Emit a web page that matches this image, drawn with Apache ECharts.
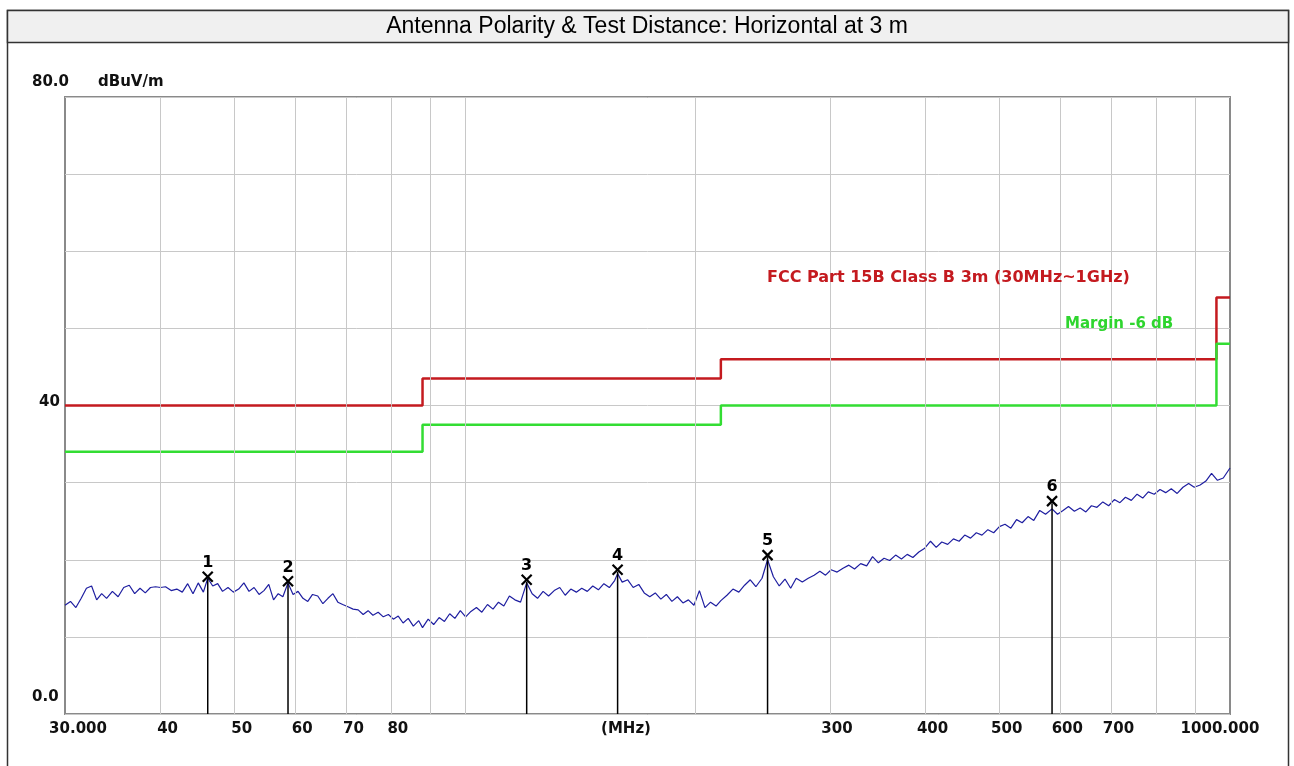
<!DOCTYPE html>
<html>
<head>
  <meta charset="utf-8" />
  <title>Radiated emission - Horizontal 3 m</title>
  <script src="https://cdn.jsdelivr.net/npm/echarts/dist/echarts.min.js"></script>
  <style>
    html, body { margin: 0; padding: 0; background: #fff; }
    #main { width: 1294px; height: 766px; }
  </style>
</head>
<body>
<div id="main"></div>
<script type="text/javascript">
    // measured trace (MHz, dBuV/m)
    var traceFreq = [
        30, 30.5, 31, 31.5, 32, 32.5, 33, 33.5, 34, 34.6, 35.2, 35.8, 36.4, 37, 37.6, 38.2, 38.8, 39.4,
        40, 40.6, 41.3, 42, 42.7, 43.4, 44.1, 44.8, 45.5, 46.1, 46.8, 47.5, 48.2, 49, 49.8,
        50.6, 51.4, 52.2, 53, 53.8, 54.6, 55.4, 56.2, 57, 57.8, 58.7, 59.6, 60.5, 61.4, 62.3, 63.2,
        64.2, 65.2, 66.2, 67.2, 68.2, 69.2, 70.3, 71.4, 72.5, 73.6, 74.7, 75.8, 77, 78.2, 79.4,
        80.6, 81.8, 83, 84.3, 85.6, 87, 88,
        89.5, 91, 92.5, 94, 95.5, 97, 98.6, 100.2, 101.8, 103.5, 105.2, 107, 108.8, 110.6, 112.4,
        114.3, 116.2, 118.2, 120.4, 122.4, 124.4, 126.5, 128.6, 130.8, 133, 135.2, 137.5, 139.8,
        142.1, 144.5, 146.9, 149.4, 151.9, 154.4, 156.9, 158.3, 160.5, 163.2, 165.9, 168.7, 171.5,
        174.4, 177.3, 180.3, 183.3, 186.4, 189.5, 192.7, 195.9, 199.2, 202.5, 205.9, 209.4, 212.9, 216,
        220, 224, 228, 232, 236, 240, 244.5, 248.6, 253, 257.5, 262, 266.5, 271, 276, 281, 286, 291,
        296, 301, 306.5, 312, 317.5, 323, 329, 335, 341, 347, 353, 359, 365.5, 372, 378.5, 385, 392,
        399, 406, 413, 420, 427.5, 435, 442.5, 450, 458, 466, 474, 482.5, 491, 499.5, 508, 517, 526,
        535, 544.5, 554, 564, 574, 585.3, 595, 605,
        615, 626, 637, 648, 659, 670, 682, 694, 706, 718, 730, 743, 756, 769, 782, 796, 810, 824,
        838, 853, 868, 883, 898, 914, 930, 946, 963, 980, 1000
    ];
    var traceLevel = [
        14.1, 14.6, 13.8, 15.0, 16.3, 16.6, 14.8, 15.6, 15.0, 15.9, 15.2, 16.4, 16.7, 15.6, 16.3, 15.7, 16.4, 16.5,
        16.4, 16.5, 16.0, 16.2, 15.8, 16.9, 15.6, 17.0, 15.8, 17.6, 16.6, 16.9, 15.9, 16.4, 15.8,
        16.2, 17.0, 15.9, 16.4, 15.5, 16.0, 16.8, 14.8, 15.6, 15.2, 17.0, 15.5, 15.9, 15.0, 14.6, 15.5,
        15.3, 14.3, 15.0, 15.6, 14.5, 14.2, 13.9, 13.6, 13.5, 12.9, 13.4, 12.8, 13.2, 12.6, 12.9,
        12.3, 12.7, 11.8, 12.4, 11.4, 12.1, 11.2,
        12.3, 11.6, 12.5, 12.0, 13.0, 12.4, 13.4, 12.6, 13.3, 13.8, 13.2, 14.2, 13.6, 14.5, 14.0,
        15.3, 14.8, 14.5, 17.0, 15.6, 15.0, 15.9, 15.3, 16.0, 16.4, 15.4, 16.2, 15.8,
        16.3, 15.9, 16.6, 16.1, 16.9, 16.4, 17.3, 18.2, 17.1, 17.4, 16.4, 16.8, 15.7,
        15.2, 15.7, 14.9, 15.5, 14.6, 15.2, 14.4, 14.8, 14.1, 16.0, 13.8, 14.5, 14.0, 14.7,
        15.4, 16.2, 15.8, 16.7, 17.4, 16.5, 17.6, 20.0, 17.8, 16.6, 17.5, 16.3, 17.6, 17.1, 17.6, 18.0, 18.5,
        18.0, 18.7, 18.4, 18.9, 19.3, 18.8, 19.5, 19.2, 20.4, 19.6, 20.2, 19.9, 20.6, 20.1, 20.7, 20.3, 21.0,
        21.5, 22.4, 21.6, 22.3, 22.0, 22.7, 22.4, 23.2, 22.8, 23.5, 23.2, 23.9, 23.5, 24.3, 24.6, 24.1, 25.2,
        24.8, 25.6, 25.1, 26.4, 25.9, 26.6, 25.9, 26.4,
        26.9, 26.3, 26.7, 26.2, 27.0, 26.8, 27.5, 27.0, 27.8, 27.4, 28.1, 27.7, 28.5, 28.0, 28.8, 28.5, 29.1, 28.7,
        29.2, 28.6, 29.4, 29.9, 29.4, 29.7, 30.2, 31.2, 30.3, 30.6, 31.9
    ];

    // FCC Part 15B Class B 3m limit and -6 dB margin
    var limitFreq = [30, 88, 88, 216, 216, 960, 960, 1000];
    var limitLevel = [40, 40, 43.5, 43.5, 46, 46, 54, 54];
    var marginLevel = [34, 34, 37.5, 37.5, 40, 40, 48, 48];

    // peak markers
    var markerLabels = ['1', '2', '3', '4', '5', '6'];
    var markerFreq = [46.1, 58.7, 120.4, 158.3, 248.6, 585.3];
    var markerLevel = [17.8, 17.2, 17.4, 18.7, 20.6, 27.6];

    // axis ticks
    var gridFreqs = [40, 50, 60, 70, 80, 90, 100, 200, 300, 400, 500, 600, 700, 800, 900];
    var xTickValues = [30, 40, 50, 60, 70, 80, 300, 400, 500, 600, 700, 1000];
    var xTickLabels = ['30.000', '40', '50', '60', '70', '80', '300', '400', '500', '600', '700', '1000.000'];
    var yTickValues = [80, 40, 0];
    var yTickLabels = ['80.0', '40', '0.0'];

    var titleText = 'Antenna Polarity & Test Distance: Horizontal at 3 m';
    var limitName = 'FCC Part 15B Class B 3m (30MHz~1GHz)';
    var marginName = 'Margin -6 dB';

    var FONT = '"DejaVu Sans", sans-serif';

    function pairs(xs, ys) {
        return xs.map(function (x, i) { return [x, ys[i]]; });
    }

    var chartDom = document.getElementById('main');
    var myChart = echarts.init(chartDom, null, { renderer: 'canvas' });

    var option = {
        animation: false,
        backgroundColor: '#fff',
        grid: {
            left: 65, right: 64, top: 97, bottom: 52,
            show: true,
            borderColor: '#8a8a8a',
            borderWidth: 2,
            containLabel: false,
            outerBoundsMode: 'none'
        },
        xAxis: {
            type: 'log',
            logBase: 10,
            min: 30,
            max: 1000,
            axisLine: { show: false },
            axisTick: { show: false },
            axisLabel: { show: false },
            splitLine: { show: false },
            minorTick: { show: false },
            minorSplitLine: { show: false }
        },
        yAxis: {
            type: 'value',
            min: 0,
            max: 80,
            interval: 10,
            axisLine: { show: false },
            axisTick: { show: false },
            axisLabel: { show: false },
            splitLine: { show: true, lineStyle: { color: '#c8c8c8', width: 1 } }
        },
        series: [
            {
                // vertical grid lines
                name: 'grid',
                type: 'line',
                data: [],
                z: 1,
                silent: true,
                markLine: {
                    silent: true,
                    symbol: ['none', 'none'],
                    label: { show: false },
                    lineStyle: { color: '#c8c8c8', width: 1, type: 'solid' },
                    animation: false,
                    data: gridFreqs.map(function (f) { return { xAxis: f }; })
                }
            },
            {
                name: 'Limit',
                type: 'line',
                data: pairs(limitFreq, limitLevel),
                showSymbol: false,
                z: 3,
                lineStyle: { color: '#c41a1f', width: 2.5 }
            },
            {
                name: 'Margin',
                type: 'line',
                data: pairs(limitFreq, marginLevel),
                showSymbol: false,
                z: 3,
                lineStyle: { color: '#33dd33', width: 2.5 }
            },
            {
                name: 'Horizontal',
                type: 'line',
                data: pairs(traceFreq, traceLevel),
                showSymbol: false,
                z: 4,
                lineStyle: { color: '#1e1ea0', width: 1.2 }
            },
            {
                name: 'Markers',
                type: 'custom',
                z: 5,
                clip: false,
                data: pairs(markerFreq, markerLevel),
                renderItem: function (params, api) {
                    var p = api.coord([api.value(0), api.value(1)]);
                    var b = api.coord([api.value(0), 0]);
                    var s = 5;
                    return {
                        type: 'group',
                        children: [
                            { type: 'line', shape: { x1: p[0], y1: p[1] + 2, x2: b[0], y2: b[1] }, style: { stroke: '#000', lineWidth: 1.5 } },
                            { type: 'line', shape: { x1: p[0] - s, y1: p[1] - s, x2: p[0] + s, y2: p[1] + s }, style: { stroke: '#000', lineWidth: 2.2 } },
                            { type: 'line', shape: { x1: p[0] - s, y1: p[1] + s, x2: p[0] + s, y2: p[1] - s }, style: { stroke: '#000', lineWidth: 2.2 } },
                            {
                                type: 'text',
                                style: {
                                    text: markerLabels[params.dataIndex],
                                    x: p[0], y: p[1] - s - 1,
                                    align: 'center', verticalAlign: 'bottom',
                                    textAlign: 'center', textVerticalAlign: 'bottom',
                                    font: 'bold 16px ' + FONT,
                                    fill: '#000'
                                }
                            }
                        ]
                    };
                }
            }
        ]
    };
    myChart.setOption(option);

    // text placed from the axis scales
    function txt(str, x, y, size, color, align, weight) {
        return {
            type: 'text',
            z: 10,
            style: {
                text: str, x: x, y: y,
                align: align || 'center', verticalAlign: 'middle',
                textAlign: align || 'center', textVerticalAlign: 'middle',
                font: (weight || 'bold') + ' ' + size + 'px ' + FONT,
                fill: color || '#111'
            }
        };
    }

    var gx = function (v) { return myChart.convertToPixel({ xAxisIndex: 0 }, v); };
    var gy = function (v) { return myChart.convertToPixel({ yAxisIndex: 0 }, v); };
    var bottomY = gy(0);
    var topY = gy(80);

    var graphics = [
        { type: 'rect', z: 0, shape: { x: 7.5, y: 10.5, width: 1281, height: 800 }, style: { fill: 'none', stroke: '#333', lineWidth: 1.5 } },
        { type: 'rect', z: 0, shape: { x: 7.5, y: 10.5, width: 1281, height: 32 }, style: { fill: '#f0f0f0', stroke: '#333', lineWidth: 1.5 } },
        {
            type: 'text', z: 10,
            style: {
                text: titleText, x: 647, y: 27,
                align: 'center', verticalAlign: 'middle',
                textAlign: 'center', textVerticalAlign: 'middle',
                font: '23px "Liberation Sans", Arial, sans-serif', fill: '#000'
            }
        }
    ];

    xTickValues.forEach(function (v, i) {
        var dx = 7;
        if (i === 0) dx = 13;
        if (i === xTickValues.length - 1) dx = -10;
        graphics.push(txt(xTickLabels[i], gx(v) + dx, bottomY + 15, 15));
    });
    graphics.push(txt('(MHz)', 626, bottomY + 15, 15));

    var yShift = { 80: [32, -14.5], 40: [39, -3.5], 0: [32, -17] };
    yTickValues.forEach(function (v, i) {
        graphics.push(txt(yTickLabels[i], yShift[v][0], gy(v) + yShift[v][1], 15, '#111', 'left'));
    });
    graphics.push(txt('dBuV/m', 98, topY - 14.5, 15, '#111', 'left'));

    graphics.push(txt(limitName, 767, 278, 16, '#c41a1f', 'left'));
    graphics.push(txt(marginName, 1065, 324, 15, '#2fd52f', 'left'));

    myChart.setOption({ graphic: graphics });

    window.onresize = function () {
        myChart.resize();
    };
</script>
</body>
</html>
